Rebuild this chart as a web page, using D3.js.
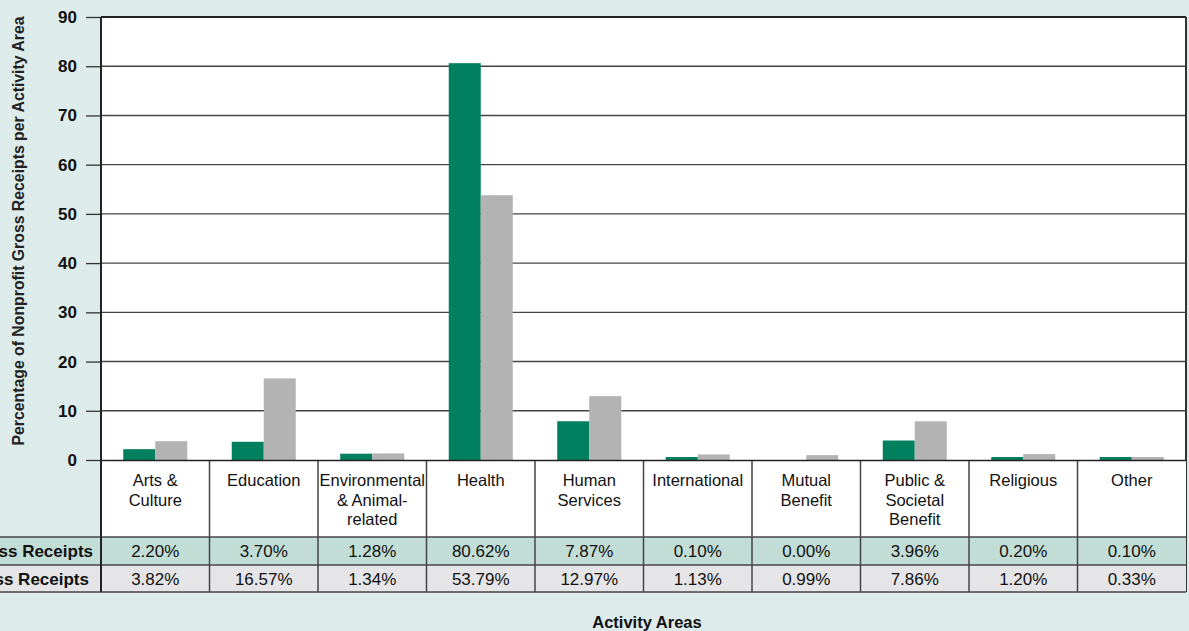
<!DOCTYPE html>
<html>
<head>
<meta charset="utf-8">
<script src="https://cdn.jsdelivr.net/npm/d3@7"></script>
<style>
  body { margin: 0; background: #ddecea; }
  svg { display: block; font-family: 'Liberation Sans', Arial, sans-serif; }
</style>
</head>
<body>
<div id="chart"></div>
<script>
const categories = ['Arts & Culture', 'Education', 'Environmental & Animal-related', 'Health',
    'Human Services', 'International', 'Mutual Benefit', 'Public & Societal Benefit', 'Religious', 'Other'];
const categoryLines = [['Arts &', 'Culture'], ['Education'], ['Environmental', '& Animal-', 'related'], ['Health'],
    ['Human', 'Services'], ['International'], ['Mutual', 'Benefit'], ['Public &', 'Societal', 'Benefit'], ['Religious'], ['Other']];
const stateValues = [2.20, 3.70, 1.28, 80.62, 7.87, 0.10, 0.00, 3.96, 0.20, 0.10];
const usValues = [3.82, 16.57, 1.34, 53.79, 12.97, 1.13, 0.99, 7.86, 1.20, 0.33];
const rowLabels = ['% of State Gross Receipts', '% of U.S. Gross Receipts'];
const yTicks = [0, 10, 20, 30, 40, 50, 60, 70, 80, 90];

const width = 1189, height = 631;
const plot = { left: 101, right: 1186, top: 17, bottom: 460 };
const table = { labelBottom: 537, row1Bottom: 565, row2Bottom: 592 };
const colors = { state: '#00805f', us: '#b3b3b3', row1: '#c1ddd5', row2: '#e5e5e7' };

const svg = d3.select('#chart').append('svg')
    .attr('width', width)
    .attr('height', height);

const xScale = d3.scaleBand()
    .domain(categories)
    .range([plot.left, plot.right]);

const xSub = d3.scaleBand()
    .domain(['state', 'us'])
    .range([0, xScale.bandwidth()])
    .paddingOuter(0.695);

const yScale = d3.scaleLinear()
    .domain([0, 90])
    .range([plot.bottom, plot.top]);

// plot background
svg.append('rect')
    .attr('x', plot.left).attr('y', plot.top)
    .attr('width', plot.right - plot.left).attr('height', plot.bottom - plot.top)
    .attr('fill', '#fff');

// y axis with gridlines
const yAxis = svg.append('g')
    .attr('class', 'y-axis')
    .attr('transform', `translate(${plot.left}, 0)`)
    .call(d3.axisLeft(yScale).tickValues(yTicks).tickSize(15).tickPadding(9));
yAxis.select('.domain').remove();
yAxis.selectAll('.tick line').attr('stroke', '#333').attr('stroke-width', 1.3);
yAxis.selectAll('.tick text')
    .style('font-size', '17px')
    .style('font-weight', 'bold')
    .attr('fill', '#111');

svg.append('g')
    .selectAll('line')
    .data(yTicks.filter(d => d > 0 && d < 90))
    .enter()
    .append('line')
    .attr('x1', plot.left).attr('x2', plot.right)
    .attr('y1', d => yScale(d)).attr('y2', d => yScale(d))
    .attr('stroke', '#444')
    .attr('stroke-width', 1.4);

// bars (tiny non-zero values kept visible, as in the original)
const barTop = v => v > 0 ? Math.min(yScale(v), plot.bottom - 3) : plot.bottom;

const groups = svg.append('g')
    .selectAll('g')
    .data(categories.map((c, i) => ({ c, state: stateValues[i], us: usValues[i] })))
    .enter()
    .append('g')
    .attr('transform', d => `translate(${xScale(d.c)}, 0)`);

['state', 'us'].forEach(key => {
    groups.append('rect')
        .attr('x', xSub(key))
        .attr('y', d => barTop(d[key]))
        .attr('width', xSub.bandwidth())
        .attr('height', d => plot.bottom - barTop(d[key]))
        .attr('fill', colors[key]);
});

// plot frame
svg.append('line')
    .attr('x1', plot.left).attr('x2', plot.right)
    .attr('y1', plot.top).attr('y2', plot.top)
    .attr('stroke', '#222').attr('stroke-width', 2);
svg.append('line')
    .attr('x1', plot.right).attr('x2', plot.right)
    .attr('y1', plot.top).attr('y2', table.row2Bottom)
    .attr('stroke', '#333').attr('stroke-width', 2);

// table rows
svg.append('rect')
    .attr('x', plot.left).attr('y', plot.bottom)
    .attr('width', plot.right - plot.left).attr('height', table.labelBottom - plot.bottom)
    .attr('fill', '#fff');
svg.append('rect')
    .attr('x', 0).attr('y', table.labelBottom)
    .attr('width', plot.right).attr('height', table.row1Bottom - table.labelBottom)
    .attr('fill', colors.row1);
svg.append('rect')
    .attr('x', 0).attr('y', table.row1Bottom)
    .attr('width', plot.right).attr('height', table.row2Bottom - table.row1Bottom)
    .attr('fill', colors.row2);

// table lines
[table.labelBottom, table.row1Bottom, table.row2Bottom].forEach(y => {
    svg.append('line')
        .attr('x1', 0).attr('x2', plot.right)
        .attr('y1', y).attr('y2', y)
        .attr('stroke', '#444').attr('stroke-width', 1.5);
});
svg.append('g')
    .selectAll('line')
    .data(categories.slice(1))
    .enter()
    .append('line')
    .attr('x1', d => xScale(d)).attr('x2', d => xScale(d))
    .attr('y1', plot.bottom).attr('y2', table.row2Bottom)
    .attr('stroke', '#444').attr('stroke-width', 1.5);

// left axis line and baseline
svg.append('line')
    .attr('x1', plot.left).attr('x2', plot.left)
    .attr('y1', plot.top).attr('y2', table.row2Bottom)
    .attr('stroke', '#222').attr('stroke-width', 2);
svg.append('line')
    .attr('x1', plot.left).attr('x2', plot.right)
    .attr('y1', plot.bottom + 0.5).attr('y2', plot.bottom + 0.5)
    .attr('stroke', '#222').attr('stroke-width', 1.5);

// category labels
const catText = svg.append('g')
    .selectAll('text')
    .data(categories)
    .enter()
    .append('text')
    .attr('text-anchor', 'middle')
    .attr('fill', '#111')
    .style('font-size', '16.5px');
catText.each(function (d, i) {
    const t = d3.select(this);
    categoryLines[i].forEach((line, j) => {
        t.append('tspan')
            .attr('x', xScale(d) + xScale.bandwidth() / 2)
            .attr('y', 486 + j * 19.5)
            .text(line);
    });
});

// table values
const rows = [stateValues, usValues];
const rowCenters = [(table.labelBottom + table.row1Bottom) / 2, (table.row1Bottom + table.row2Bottom) / 2];
rows.forEach((vals, r) => {
    svg.append('g')
        .selectAll('text')
        .data(vals)
        .enter()
        .append('text')
        .attr('x', (d, i) => xScale(categories[i]) + xScale.bandwidth() / 2)
        .attr('y', rowCenters[r])
        .attr('dy', '0.36em')
        .attr('text-anchor', 'middle')
        .attr('fill', '#111')
        .style('font-size', '17px')
        .text(d => d.toFixed(2) + '%');

    svg.append('text')
        .attr('x', r === 0 ? 93 : 89)
        .attr('y', rowCenters[r])
        .attr('dy', '0.36em')
        .attr('text-anchor', 'end')
        .attr('fill', '#111')
        .style('font-size', '17px')
        .style('font-weight', 'bold')
        .text(rowLabels[r]);
});

// axis titles
svg.append('text')
    .attr('transform', `translate(24, 231)rotate(-90)`)
    .attr('text-anchor', 'middle')
    .attr('fill', '#222')
    .style('font-size', '15.8px')
    .style('font-weight', 'bold')
    .text('Percentage of Nonprofit Gross Receipts per Activity Area');

svg.append('text')
    .attr('x', 647)
    .attr('y', 628)
    .attr('text-anchor', 'middle')
    .attr('fill', '#111')
    .style('font-size', '16.5px')
    .style('font-weight', 'bold')
    .text('Activity Areas');
</script>
</body>
</html>
